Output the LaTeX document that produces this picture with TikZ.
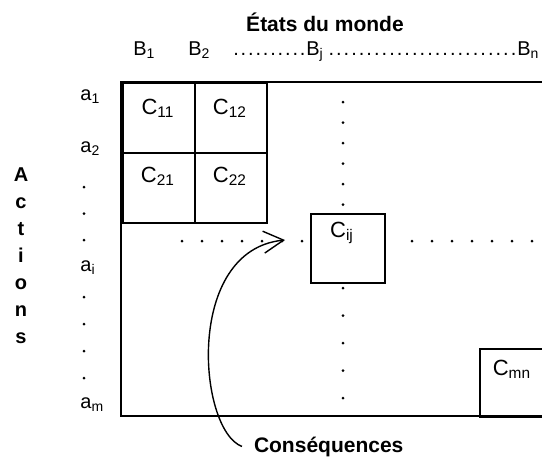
\documentclass[tikz,border=0pt]{standalone}
\usepackage{fontspec}
\setmainfont{Liberation Sans}
\usetikzlibrary{arrows.meta}
\newcommand{\dotrun}[1]{\hbox to #1{\xleaders\hbox to 3.7pt{\hss.\hss}\hfill}}
\begin{document}
\begin{tikzpicture}[x=0.5pt,y=-0.5pt,
  txt/.style={inner sep=0pt,font=\fontsize{10}{12}\selectfont},
  hdr/.style={inner sep=0pt,font=\fontsize{10.5}{12}\selectfont\bfseries},
  ctxt/.style={inner sep=0pt,font=\fontsize{11}{13}\selectfont},
  cell/.style={draw,line width=0.9pt,inner sep=0pt,anchor=north west,
    minimum width=36pt,minimum height=35pt},
  frame/.style={line width=0.9pt},
  conseq/.style={line width=0.7pt,-{Straight Barb[length=10pt,width=11pt]}}]
\useasboundingbox (0,0) rectangle (542,461);
\clip (0,0) rectangle (542,461);
% titles
\node[hdr,anchor=base] (title) at (325,31) {États du monde};
\node[txt,anchor=base west] (b1) at (133,55) {B\textsubscript{1}};
\node[txt,anchor=base west] (b2) at (188,55) {B\textsubscript{2}};
\node[txt,anchor=base west] (bj) at (232,55) {\dotrun{37pt}B\textsubscript{j}};
\node[txt,anchor=base west] (bn) at (327,55) {\dotrun{95pt}B\textsubscript{n}};
\foreach \l [count=\k] in {A,c,t,i,o,n,s}
  \node[hdr,font=\fontsize{10}{12}\selectfont\bfseries,anchor=base] (act\k) at (21,181+27*\k-27) {\l};
% row labels
\node[txt,anchor=base west] (a1) at (80,100) {a\textsubscript{1}};
\node[txt,anchor=base west] (a2) at (80,152) {a\textsubscript{2}};
\node[txt,anchor=base west] (ai) at (80,271) {a\textsubscript{i}};
\node[txt,anchor=base west] (am) at (80,408) {a\textsubscript{m}};
\foreach \y in {187,213.5,240,297,324,351,378}
  \fill (84,\y) circle (0.75pt);
% matrix
\draw[frame] (548,82) -| (121,416) -- (548,416);
\node[cell] (c11) at (122,82) {};
\node[cell] (c12) at (194,82) {};
\node[cell] (c21) at (122,152) {};
\node[cell] (c22) at (194,152) {};
\node[cell,minimum width=37pt,minimum height=34.5pt] (cij) at (310,213) {};
\node[cell,minimum height=34pt] (cmn) at (479,348) {};
\node[ctxt] (t11) at (158,108) {C\textsubscript{11}};
\node[ctxt] (t12) at (230,108) {C\textsubscript{12}};
\node[ctxt] (t21) at (158,176) {C\textsubscript{21}};
\node[ctxt] (t22) at (230,176) {C\textsubscript{22}};
\node[ctxt] (tij) at (342,233) {C\textsubscript{ij}};
\node[ctxt] (tmn) at (512,369) {C\textsubscript{mn}};
% dotted guides
\foreach \y in {102,122.5,143,163.5,184,204.5,288,315.5,343,370.5,398}
  \fill (343,\y) circle (0.75pt);
\foreach \x in {182,202,...,302}
  \fill (\x,241) circle (0.75pt);
\foreach \x in {412,432,...,532}
  \fill (\x,241) circle (0.75pt);
% consequences
\node[hdr,anchor=base west,outer xsep=6pt] (cons) at (242,452) {Conséquences};
\coordinate (tip) at (285,240);
\draw[conseq] (cons.west) .. controls (198,430) and (184,250) .. (tip);
\end{tikzpicture}
\end{document}
